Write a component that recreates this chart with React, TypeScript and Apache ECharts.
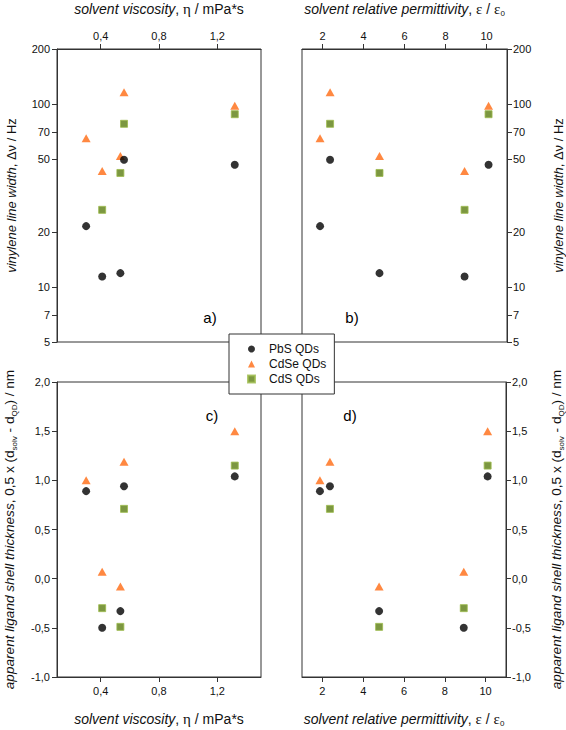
import React, { useEffect, useRef } from 'react';
import * as echarts from 'echarts';

// Solvent order: hexane, toluene, chloroform, dichloromethane, last solvent
const seriesNames = ['PbS QDs', 'CdSe QDs', 'CdS QDs'];
const viscosity = [0.30, 0.56, 0.535, 0.41, 1.32];
const permittivity = [1.88, 2.37, 4.78, 8.93, 10.1];
const lineWidthPbS = [21.5, 49.6, 11.9, 11.4, 46.6];
const lineWidthCdSe = [65, 116, 52, 43, 98];
const lineWidthCdS = [null, 78, 42, 26.4, 88];
const shellPbS = [0.89, 0.94, -0.33, -0.5, 1.04];
const shellCdSe = [1.0, 1.19, -0.08, 0.07, 1.5];
const shellCdS = [null, 0.71, -0.49, -0.3, 1.15];
const viscosityTicks = [0.4, 0.8, 1.2];
const permittivityTicks = [2, 4, 6, 8, 10];
const lineWidthTicks = [5, 7, 10, 20, 50, 70, 100, 200];
const panelLabels = ['a)', 'b)', 'c)', 'd)'];

const FONT = '"Liberation Sans", Arial, Helvetica, sans-serif';
const SERIF = '"Liberation Serif", "Times New Roman", serif';
const AX = '#333';
const TXT = '#111';

const fmtComma = (v: number) => v.toFixed(1).replace('.', ',');

function pairs(xs: number[], ys: (number | null)[]) {
  const out: number[][] = [];
  xs.forEach((x, i) => {
    const y = ys[i];
    if (y != null) out.push([x, y]);
  });
  return out;
}

const symbolStyles: Record<string, any> = {
  'PbS QDs': { symbol: 'circle', symbolSize: 8, itemStyle: { color: '#000000' } },
  'CdSe QDs': { symbol: 'triangle', symbolSize: [9, 8], itemStyle: { color: '#ff6a12' } },
  'CdS QDs': {
    symbol: 'rect',
    symbolSize: 7,
    itemStyle: { color: '#5b7d12', borderColor: '#9dbb4c', borderWidth: 1 },
  },
};

function makeRich(fs: number) {
  return {
    i: { fontStyle: 'italic', fontSize: fs, fontFamily: FONT, color: TXT, lineHeight: 17 },
    n: { fontStyle: 'normal', fontSize: fs, fontFamily: FONT, color: TXT, lineHeight: 17 },
    g: { fontStyle: 'normal', fontSize: fs + 1, fontFamily: SERIF, color: TXT, lineHeight: 17 },
    s: { fontStyle: 'normal', fontSize: 8, fontFamily: FONT, color: TXT, lineHeight: 6, verticalAlign: 'bottom' },
  };
}

const nameStyle = (fs: number) => ({ fontSize: fs, fontFamily: FONT, color: TXT, rich: makeRich(fs) });

const viscName = '{i|solvent viscosity}{n|,} {g|η} {n|/ mPa*s}';
const permName = '{i|solvent relative permittivity}{n|,} {g|ε} {n|/} {g|ε}{s|0}';
const lwName = '{i|vinylene line width}{n|,} {n|Δν / Hz}';
const shellName = '{i|apparent ligand shell thickness}{n|, 0,5 x (d}{s|solv}{n| - d}{s|QD}{n|) / nm}';

function xAxisDef(grid: number, kind: 'visc' | 'perm', pos: 'top' | 'bottom', gap: number) {
  const ticks = kind === 'visc' ? viscosityTicks : permittivityTicks;
  return {
    gridIndex: grid,
    type: 'value',
    position: pos,
    min: kind === 'visc' ? 0.1 : 1,
    max: kind === 'visc' ? 1.5 : 11,
    name: kind === 'visc' ? viscName : permName,
    nameLocation: 'middle',
    nameGap: gap,
    nameTextStyle: nameStyle(14),
    axisLine: { show: true, onZero: false, lineStyle: { color: AX, width: 1 } },
    axisTick: { show: true, inside: false, length: 5, customValues: ticks, lineStyle: { color: AX } },
    axisLabel: {
      customValues: ticks,
      formatter: kind === 'visc' ? (v: number) => fmtComma(v) : (v: number) => String(v),
      fontSize: 11,
      fontFamily: FONT,
      color: TXT,
      margin: 8,
    },
    splitLine: { show: false },
  };
}

function yAxisDef(grid: number, kind: 'lw' | 'shell', pos: 'left' | 'right', gap: number) {
  const base: any = {
    gridIndex: grid,
    position: pos,
    name: kind === 'lw' ? lwName : shellName,
    nameLocation: 'middle',
    nameRotate: 90,
    nameGap: gap,
    nameTextStyle: nameStyle(kind === 'lw' ? 13 : 13.6),
    axisLine: { show: true, onZero: false, lineStyle: { color: AX, width: 1 } },
    splitLine: { show: false },
  };
  if (kind === 'lw') {
    return {
      ...base,
      type: 'log',
      logBase: 10,
      min: 5,
      max: 200,
      axisTick: { show: true, inside: false, length: 5, customValues: lineWidthTicks, lineStyle: { color: AX } },
      axisLabel: {
        customValues: lineWidthTicks,
        formatter: (v: number) => String(Math.round(v)),
        fontSize: 11,
        fontFamily: FONT,
        color: TXT,
        margin: pos === 'left' ? 7 : 6,
      },
    };
  }
  return {
    ...base,
    type: 'value',
    min: -1,
    max: 2,
    interval: 0.5,
    axisTick: { show: true, inside: false, length: 5, lineStyle: { color: AX } },
    axisLabel: {
      formatter: (v: number) => fmtComma(v),
      fontSize: 11,
      fontFamily: FONT,
      color: TXT,
      margin: pos === 'left' ? 7 : 6,
    },
  };
}

function buildSeries() {
  const panels = [
    { x: viscosity, ys: [lineWidthPbS, lineWidthCdSe, lineWidthCdS] },
    { x: permittivity, ys: [lineWidthPbS, lineWidthCdSe, lineWidthCdS] },
    { x: viscosity, ys: [shellPbS, shellCdSe, shellCdS] },
    { x: permittivity, ys: [shellPbS, shellCdSe, shellCdS] },
  ];
  const series: any[] = [];
  const drawOrder = [2, 1, 0];
  panels.forEach((p, gi) => {
    drawOrder.forEach((si) => {
      const name = seriesNames[si];
      series.push({
        type: 'scatter',
        name,
        xAxisIndex: gi,
        yAxisIndex: gi,
        data: pairs(p.x, p.ys[si]),
        ...symbolStyles[name],
        z: 3 + (2 - si),
        emphasis: { disabled: true },
      });
    });
  });
  return series;
}

const gridBox = (left: number, top: number, width: number, height: number) => ({
  left,
  top,
  width,
  height,
  show: true,
  borderColor: AX,
  borderWidth: 1,
  backgroundColor: 'transparent',
  containLabel: false,
});

const labelPos = [
  [210, 317],
  [352, 317],
  [212, 415],
  [350, 415],
];

export default function App() {
  const ref = useRef<HTMLDivElement>(null);
  useEffect(() => {
    document.body.style.margin = '0';
    const chart = echarts.init(ref.current!, null, { renderer: 'svg' });
    chart.setOption({
      animation: false,
      backgroundColor: '#ffffff',
      textStyle: { fontFamily: FONT },
      grid: [
        gridBox(57, 48, 204, 294),
        gridBox(302, 48, 205, 294),
        gridBox(57, 382, 204, 295),
        gridBox(302, 382, 205, 295),
      ],
      xAxis: [
        xAxisDef(0, 'visc', 'top', 32),
        xAxisDef(1, 'perm', 'top', 32),
        xAxisDef(2, 'visc', 'bottom', 33),
        xAxisDef(3, 'perm', 'bottom', 33),
      ],
      yAxis: [
        yAxisDef(0, 'lw', 'left', 37),
        yAxisDef(1, 'lw', 'right', 43),
        yAxisDef(2, 'shell', 'left', 39),
        yAxisDef(3, 'shell', 'right', 42),
      ],
      legend: {
        orient: 'vertical',
        left: 229,
        top: 334,
        padding: [9, 8, 9, 18],
        itemWidth: 7,
        itemHeight: 7,
        itemGap: 3,
        backgroundColor: '#ffffff',
        borderColor: AX,
        borderWidth: 1,
        z: 10,
        selectedMode: false,
        textStyle: { fontSize: 12, fontFamily: FONT, color: TXT, padding: [0, 0, 0, 9] },
        data: [
          { name: 'PbS QDs', icon: 'circle' },
          { name: 'CdSe QDs', icon: 'triangle' },
          { name: 'CdS QDs', icon: 'rect' },
        ],
      },
      graphic: panelLabels.map((t, i) => ({
        type: 'text',
        x: labelPos[i][0],
        y: labelPos[i][1],
        z: 5,
        style: {
          text: t,
          fontSize: 15,
          fontFamily: FONT,
          fill: '#000',
          align: 'center',
          verticalAlign: 'middle',
        },
      })),
      series: buildSeries(),
    });
    return () => chart.dispose();
  }, []);
  return <div ref={ref} style={{ position: 'absolute', left: 0, top: 0, width: 566, height: 730 }} />;
}
